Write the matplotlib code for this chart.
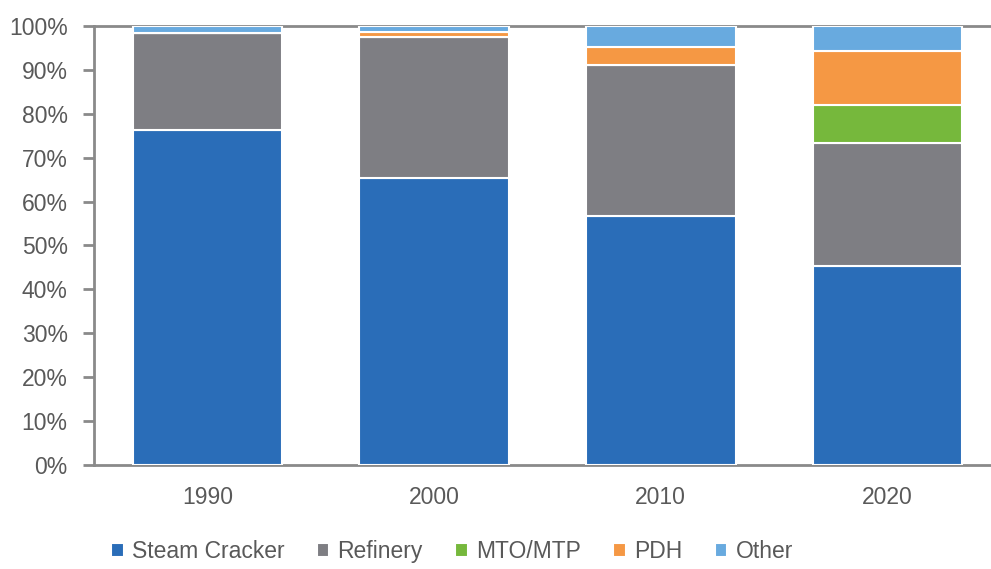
import matplotlib
matplotlib.use("Agg")
import matplotlib.pyplot as plt
import numpy as np

years = ["1990", "2000", "2010", "2020"]
series_names = ["Steam Cracker", "Refinery", "MTO/MTP", "PDH", "Other"]
steam_cracker = [76.3, 65.4, 56.7, 45.4]
refinery = [22.2, 32.1, 34.4, 28.0]
mto_mtp = [0.0, 0.0, 0.0, 8.6]
pdh = [0.0, 1.2, 4.1, 12.2]
other = [1.5, 1.3, 4.8, 5.8]
colors = ["#2a6db8", "#7e7e83", "#76b83c", "#f59844", "#68aadf"]
y_ticks = [0, 10, 20, 30, 40, 50, 60, 70, 80, 90, 100]

plt.rcParams["font.family"] = ["Liberation Sans", "DejaVu Sans"]
text_color = "#595959"
axis_color = "#8a8a8a"

fig = plt.figure(figsize=(9.91, 5.69), dpi=100)
ax = fig.add_axes([0.0949, 0.1828, 0.915, 0.7715])

x = np.arange(len(years))
bottom = np.zeros(len(years))
for name, vals, col in zip(series_names, [steam_cracker, refinery, mto_mtp, pdh, other], colors):
    vals = np.array(vals)
    ax.bar(x, vals, width=0.66, bottom=bottom, color=col, edgecolor="white",
           linewidth=1.5, label=name, zorder=3)
    bottom += vals

ax.set_xlim(-0.5, len(years) - 0.5)
ax.set_ylim(0, 100)
ax.set_xticks(x)
ax.set_xticklabels(years)
ax.set_yticks(y_ticks)
ax.set_yticklabels([f"{v}%" for v in y_ticks])
ax.axhline(100, color=axis_color, linewidth=2, zorder=1, clip_on=False)

for s in ["top", "right"]:
    ax.spines[s].set_visible(False)
for s in ["left", "bottom"]:
    ax.spines[s].set_color(axis_color)
    ax.spines[s].set_linewidth(2)

ax.tick_params(axis="y", length=8, width=2, color=axis_color, labelsize=16.5,
               labelcolor=text_color, pad=11)
ax.tick_params(axis="x", length=0, labelsize=16.5, labelcolor=text_color, pad=15)

handles, labels = ax.get_legend_handles_labels()
fig.legend(handles, labels, loc="center", bbox_to_anchor=(0.456, 0.03), ncol=5,
           frameon=False, fontsize=16.5, handlelength=0.55, handleheight=0.55,
           handletextpad=0.35, columnspacing=1.42, labelcolor=text_color)

fig.savefig("out.png", dpi=100)
